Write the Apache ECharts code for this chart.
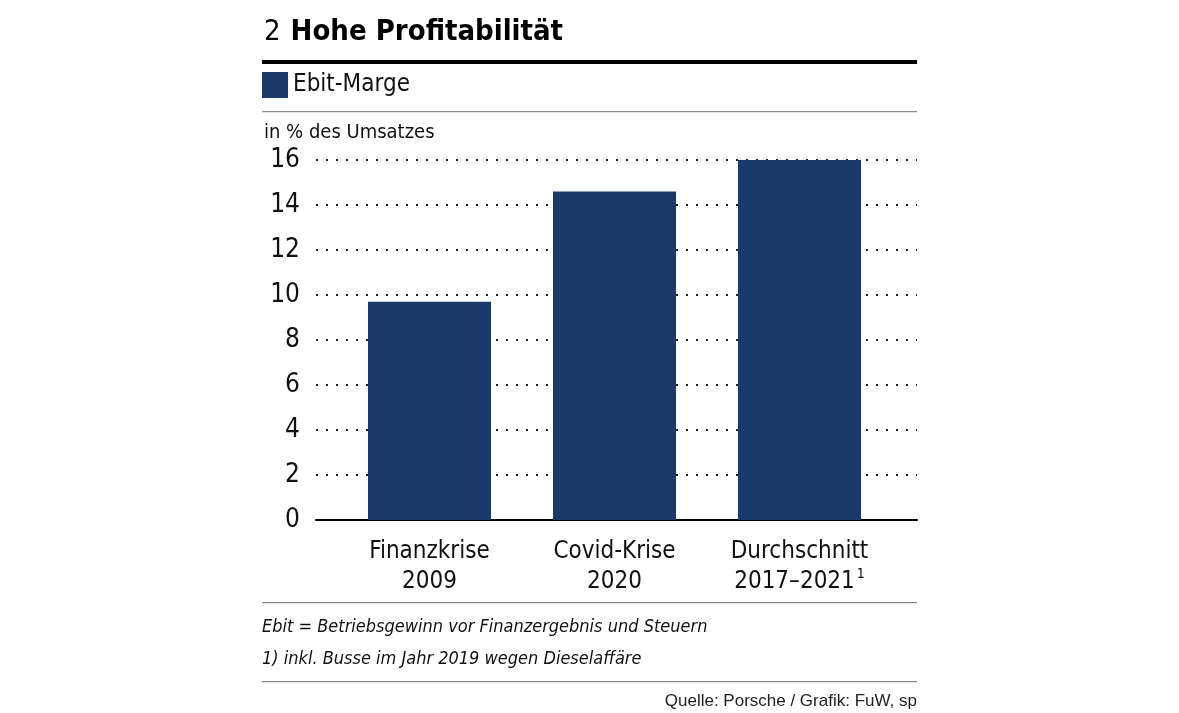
<!DOCTYPE html>
<html>
<head>
<meta charset="utf-8">
<script src="https://cdn.jsdelivr.net/npm/echarts@6/dist/echarts.min.js"></script>
<style>
html,body{margin:0;padding:0;background:#fff;}
#c{width:1179px;height:713px;}
</style>
</head>
<body>
<div id="c"></div>
<script>
const categories = ['Finanzkrise\n2009', 'Covid-Krise\n2020', 'Durchschnitt\n2017–2021'];
const footnoteMarks = ['', '', '1'];
const seriesName = 'Ebit-Marge';
const values = [9.7, 14.6, 16.1];
const yMin = 0, yMax = 16, yStep = 2;

const COND = '"Liberation Sans Narrow","DejaVu Sans Condensed","Roboto Condensed","Liberation Sans",sans-serif';
const REG = '"Liberation Sans","Noto Sans",sans-serif';
const BAR = '#1b3a6b';

const chart = echarts.init(document.getElementById('c'), null, {renderer: 'canvas'});
chart.setOption({
  animation: false,
  backgroundColor: '#fff',
  title: [
    {
      text: '{n|2}  {b|Hohe Profitabilität}',
      left: 264, top: 18, padding: 0,
      textStyle: {
        rich: {
          n: {fontFamily: COND, fontSize: 29, fontWeight: 'normal', color: '#000'},
          b: {fontFamily: COND, fontSize: 29, fontWeight: 'bold', color: '#000'}
        }
      }
    },
    {
      text: 'in % des Umsatzes',
      left: 264, top: 123, padding: 0,
      textStyle: {fontFamily: COND, fontSize: 20, fontWeight: 'normal', color: '#111'}
    },
    {
      text: 'Ebit = Betriebsgewinn vor Finanzergebnis und Steuern\n1) inkl. Busse im Jahr 2019 wegen Dieselaffäre',
      left: 262, top: 611, padding: 0,
      textStyle: {fontFamily: COND, fontSize: 18, fontStyle: 'italic', fontWeight: 'normal', color: '#111', lineHeight: 32}
    },
    {
      text: 'Quelle: Porsche / Grafik: FuW, sp',
      right: 262, top: 693, padding: 0,
      textStyle: {fontFamily: REG, fontSize: 17, fontWeight: 'normal', color: '#222'}
    }
  ],
  legend: {
    data: [seriesName],
    left: 262, top: 72, padding: 0,
    icon: 'rect',
    itemWidth: 26, itemHeight: 26, itemGap: 8,
    textStyle: {fontFamily: COND, fontSize: 24, color: '#111', padding: [4, 0, 0, 0]}
  },
  graphic: [
    {type: 'rect', shape: {x: 262, y: 60, width: 655, height: 4}, style: {fill: '#000'}, silent: true},
    {type: 'rect', shape: {x: 262, y: 111, width: 655, height: 1.3}, style: {fill: '#8a8a8a'}, silent: true},
    {type: 'rect', shape: {x: 262, y: 602, width: 655, height: 1.3}, style: {fill: '#8a8a8a'}, silent: true},
    {type: 'rect', shape: {x: 262, y: 681, width: 655, height: 1.3}, style: {fill: '#8a8a8a'}, silent: true}
  ],
  grid: [
    {left: 316, right: 262, top: 160, bottom: 193},
    {left: 337, right: 287, top: 160, bottom: 193}
  ],
  xAxis: [
    {
      type: 'value', gridIndex: 0, min: 0, max: 1,
      axisLine: {show: true, onZero: false, lineStyle: {color: '#000', width: 2}},
      axisTick: {show: false}, axisLabel: {show: false}, splitLine: {show: false}
    },
    {
      type: 'category', gridIndex: 1, data: categories,
      axisLine: {show: false}, axisTick: {show: false},
      axisLabel: {
        margin: 17,
        formatter: function (v, i) {
          const parts = v.split('\n');
          const mark = footnoteMarks[i] ? '{s|' + footnoteMarks[i] + '}' : '';
          return '{a|' + parts[0] + '}\n{a|' + parts[1] + '}' + mark;
        },
        rich: {
          a: {fontFamily: COND, fontSize: 24, color: '#111', lineHeight: 30},
          s: {fontFamily: COND, fontSize: 14, color: '#111', verticalAlign: 'top', padding: [0, 0, 10, 2], lineHeight: 30}
        }
      }
    }
  ],
  yAxis: [
    {
      type: 'value', gridIndex: 0, min: yMin, max: yMax, interval: yStep,
      axisLine: {show: false}, axisTick: {show: false},
      axisLabel: {margin: 16, fontFamily: COND, fontSize: 26, color: '#111'},
      splitLine: {show: true, lineStyle: {color: '#222', width: 2, type: [2, 8]}}
    },
    {
      type: 'value', gridIndex: 1, min: yMin, max: yMax, interval: yStep, show: false,
      splitLine: {show: false}
    }
  ],
  series: [
    {
      name: seriesName, type: 'bar', xAxisIndex: 1, yAxisIndex: 1,
      data: values, barWidth: 123, itemStyle: {color: BAR}, z: 5
    }
  ]
});
</script>
</body>
</html>
